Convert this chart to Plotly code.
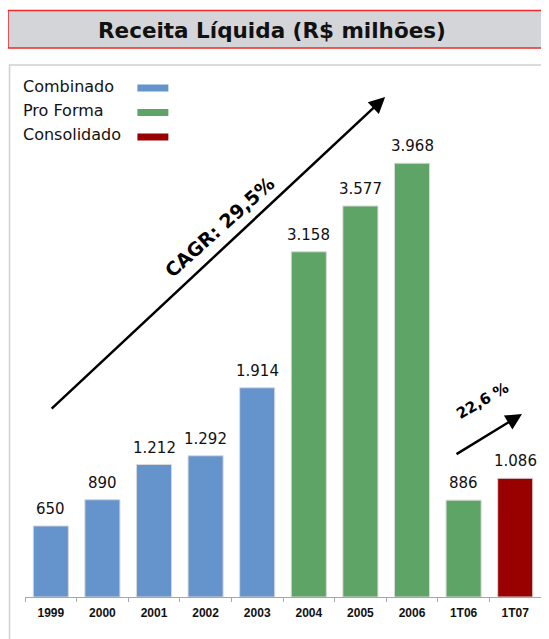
import plotly.graph_objects as go

categories = ["1999", "2000", "2001", "2002", "2003", "2004", "2005", "2006", "1T06", "1T07"]
values = [650, 890, 1212, 1292, 1914, 3158, 3577, 3968, 886, 1086]
groups = ["Combinado"] * 5 + ["Pro Forma"] * 4 + ["Consolidado"]
group_colors = {"Combinado": "#6593CC", "Pro Forma": "#5FA467", "Consolidado": "#990000"}
legend_order = ["Combinado", "Pro Forma", "Consolidado"]
title_text = "Receita Líquida (R$ milhões)"
cagr_text = "CAGR: 29,5%"
quarter_growth_text = "22,6 %"

W, H = 549, 639
OFF = 8  # page body margin offset
# target plot area in screenshot pixels: x 24.5..541, y 116..597
L, T = 24.5 - OFF, 116 - OFF
R, B = W - (541 - OFF), H - (597 - OFF)
PW, PH = W - L - R, H - T - B


def px(x):
    return (x - OFF - L) / PW


def py(y):
    return (T + PH - (y - OFF)) / PH


fig = go.Figure()
fig.add_trace(go.Bar(
    x=categories, y=values,
    marker=dict(color=[group_colors[g] for g in groups],
                line=dict(color="#d9d9d9", width=1)),
    showlegend=False, hoverinfo="x+y",
))

annotations = []
for i, v in enumerate(values):
    annotations.append(dict(
        x=i, y=v, xref="x", yref="y", text=f"{v:,}".replace(",", "."),
        showarrow=False, yanchor="bottom", yshift=6,
        font=dict(family="DejaVu Sans, Verdana, sans-serif", size=15, color="#111111"),
    ))

# title
annotations.append(dict(
    x=px(272), y=py(30), xref="paper", yref="paper", text="<b>" + title_text + "</b>",
    showarrow=False, xanchor="center", yanchor="middle",
    font=dict(family="DejaVu Sans, Verdana, sans-serif", size=21.5, color="#111111"),
))

# legend (manual)
for i, g in enumerate(legend_order):
    yy = 86 + i * 24.5
    annotations.append(dict(
        x=px(20), y=py(yy), xref="paper", yref="paper", text=g,
        showarrow=False, xanchor="left", yanchor="middle",
        font=dict(family="DejaVu Sans, Verdana, sans-serif", size=16, color="#111111"),
    ))

# arrows
annotations.append(dict(
    x=px(385), y=py(97), xref="paper", yref="paper", ax=50 - 385, ay=410 - 97,
    axref="pixel", ayref="pixel", text="", showarrow=True,
    arrowhead=2, arrowsize=1.3, arrowwidth=2.5, arrowcolor="#000000",
))
annotations.append(dict(
    x=px(219), y=py(227), xref="paper", yref="paper", text="<b>" + cagr_text + "</b>",
    showarrow=False, textangle=-42, xanchor="center", yanchor="middle",
    font=dict(family="DejaVu Sans, Verdana, sans-serif", size=19, color="#000000"),
))
annotations.append(dict(
    x=px(522), y=py(414), xref="paper", yref="paper", ax=455 - 522, ay=455 - 414,
    axref="pixel", ayref="pixel", text="", showarrow=True,
    arrowhead=2, arrowsize=1.3, arrowwidth=2.5, arrowcolor="#000000",
))
annotations.append(dict(
    x=px(482), y=py(401), xref="paper", yref="paper", text="<b>" + quarter_growth_text + "</b>",
    showarrow=False, textangle=-30, xanchor="center", yanchor="middle",
    font=dict(family="DejaVu Sans, Verdana, sans-serif", size=15, color="#000000"),
))

shapes = [
    # chart panel border
    dict(type="rect", xref="paper", yref="paper", x0=px(9), x1=px(580), y0=py(680), y1=py(65),
         line=dict(color="#d0d0d0", width=1.5), fillcolor="rgba(0,0,0,0)", layer="below"),
    # title box
    dict(type="rect", xref="paper", yref="paper", x0=px(7.5), x1=px(580), y0=py(48), y1=py(10.5),
         line=dict(color="#ee2a2a", width=1.5), fillcolor="#d4d5d8"),
]
for i, g in enumerate(legend_order):
    yy = 88 + i * 24.5
    shapes.append(dict(type="rect", xref="paper", yref="paper", x0=px(137), x1=px(168),
                       y0=py(yy + 3.5), y1=py(yy - 3.5), line=dict(width=0),
                       fillcolor=group_colors[g]))

fig.update_layout(
    width=W, height=H,
    margin=dict(l=L, r=R, t=T, b=B, pad=0),
    paper_bgcolor="white", plot_bgcolor="white",
    bargap=0.32,
    xaxis=dict(type="category", range=[-0.5, len(categories) - 0.5], autorange=False,
               showline=True, linecolor="#a6a6a6", linewidth=1,
               ticks="outside", ticklen=4, tickcolor="#a6a6a6", tickson="boundaries",
               ticklabelstandoff=5,
               showgrid=False, zeroline=False,
               tickfont=dict(family="Liberation Sans, Arial, sans-serif", size=12, color="#111111"),
               tickprefix="<b>", ticksuffix="</b>"),
    yaxis=dict(range=[0, 4400], autorange=False, visible=False, showgrid=False, zeroline=False),
    annotations=annotations, shapes=shapes,
    font=dict(family="DejaVu Sans, Verdana, sans-serif"),
)

fig.write_html("out.html")
